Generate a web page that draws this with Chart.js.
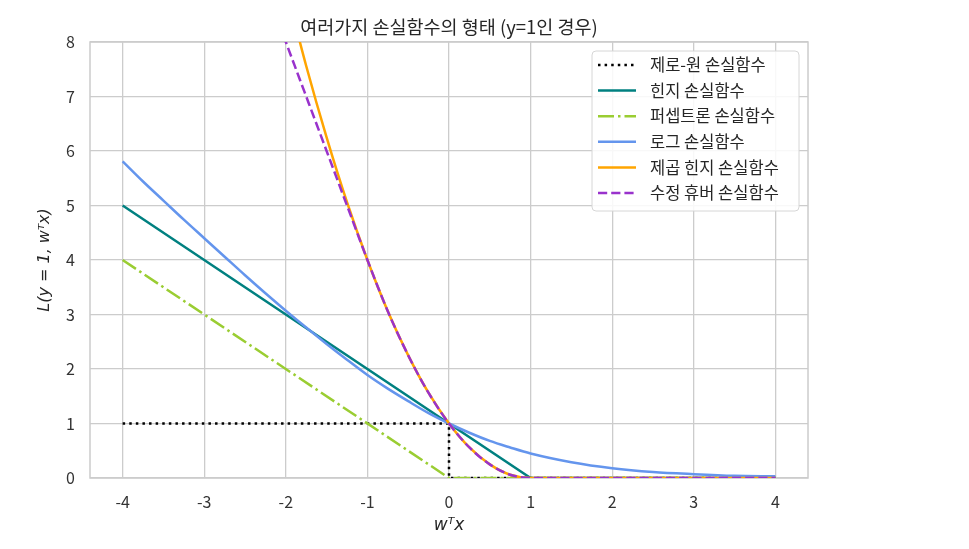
<!DOCTYPE html>
<html>
<head>
<meta charset="utf-8">
<script src="https://cdn.jsdelivr.net/npm/chart.js@4"></script>
<style>
  body { margin: 0; background: #fff; }
  canvas { display: block; }
</style>
</head>
<body>
<canvas id="lossChart" width="969" height="549"></canvas>
<script>
// tick labels
const xTicks = [-4, -3, -2, -1, 0, 1, 2, 3, 4];
const yTicks = [0, 1, 2, 3, 4, 5, 6, 7, 8];

// zero-one loss
const zeroOneX = [-4, 0, 0, 4];
const zeroOneY = [1, 1, 0, 0];

// hinge loss
const hingeX = [-4, 1, 4];
const hingeY = [5, 0, 0];

// perceptron loss
const perceptronX = [-4, 0, 4];
const perceptronY = [4, 0, 0];

// log loss
const logX = [-4, -3.75, -3.5, -3.25, -3, -2.75, -2.5, -2.25, -2, -1.75, -1.5, -1.25, -1,
  -0.75, -0.5, -0.25, 0, 0.25, 0.5, 0.75, 1, 1.5, 2, 2.5, 3, 3.5, 4];
const logY = [5.81, 5.44, 5.09, 4.74, 4.40, 4.06, 3.72, 3.39, 3.07, 2.76, 2.46, 2.17, 1.89,
  1.64, 1.41, 1.19, 1.0, 0.83, 0.68, 0.56, 0.45, 0.29, 0.18, 0.11, 0.07, 0.04, 0.03];

// squared hinge loss
const sqHingeX = [-2, -1.75, -1.5, -1.25, -1, -0.75, -0.5, -0.25, 0, 0.25, 0.5, 0.75, 1, 4];
const sqHingeY = [9, 7.56, 6.25, 5.06, 4, 3.06, 2.25, 1.56, 1, 0.56, 0.25, 0.06, 0, 0];

// modified huber loss
const huberX = [-2.2, -2, -1.75, -1.5, -1.25, -1, -0.75, -0.5, -0.25, 0, 0.25, 0.5, 0.75, 1, 4];
const huberY = [8.8, 8, 7, 6, 5, 4, 3.06, 2.25, 1.56, 1, 0.56, 0.25, 0.06, 0, 0];

const labels = ["제로-원 손실함수", "힌지 손실함수", "퍼셉트론 손실함수", "로그 손실함수", "제곱 힌지 손실함수", "수정 휴버 손실함수"];
const colors = ["#000000", "#008080", "#9acd32", "#6495ed", "#ffa500", "#9932cc"];

function toPoints(xs, ys) {
  return xs.map((x, i) => ({ x: x, y: ys[i] }));
}

const LW = 2.5;
const dashes = [[2.5, 4.1], [], [16, 4, 2.5, 4], [], [], [9.2, 4]];
const series = [
  toPoints(zeroOneX, zeroOneY),
  toPoints(hingeX, hingeY),
  toPoints(perceptronX, perceptronY),
  toPoints(logX, logY),
  toPoints(sqHingeX, sqHingeY),
  toPoints(huberX, huberY),
];
const curved = [false, false, false, true, true, true];

const datasets = series.map((data, i) => ({
  label: labels[i],
  data: data,
  borderColor: colors[i],
  backgroundColor: colors[i],
  borderWidth: LW,
  borderDash: dashes[i],
  pointRadius: 0,
  fill: false,
  cubicInterpolationMode: curved[i] ? "monotone" : "default",
  tension: 0,
  order: series.length - i,
}));

const FONT = "'Noto Sans CJK KR', 'Noto Sans', sans-serif";

// frame around the plot area
const framePlugin = {
  id: "frame",
  beforeDatasetsDraw(chart) {
    const { ctx, chartArea: a } = chart;
    ctx.save();
    ctx.strokeStyle = "#cccccc";
    ctx.lineWidth = 1.5;
    ctx.strokeRect(a.left, a.top, a.right - a.left, a.bottom - a.top);
    ctx.restore();
  },
};

// legend box in upper right corner, like matplotlib
const legendPlugin = {
  id: "boxLegend",
  afterDatasetsDraw(chart) {
    const { ctx, chartArea: a } = chart;
    const x0 = a.right - 216, y0 = a.top + 9, w = 207, h = 160;
    ctx.save();
    ctx.fillStyle = "rgba(255,255,255,0.85)";
    ctx.strokeStyle = "#d6d6d6";
    ctx.lineWidth = 1;
    ctx.beginPath();
    ctx.roundRect(x0, y0, w, h, 4);
    ctx.fill();
    ctx.stroke();
    ctx.font = "16.5px " + FONT;
    ctx.textBaseline = "middle";
    chart.data.datasets.forEach((ds, i) => {
      const y = y0 + 14 + i * 25.6;
      ctx.strokeStyle = ds.borderColor;
      ctx.lineWidth = LW;
      ctx.setLineDash(ds.borderDash);
      ctx.beginPath();
      ctx.moveTo(x0 + 6, y);
      ctx.lineTo(x0 + 44, y);
      ctx.stroke();
      ctx.setLineDash([]);
      ctx.fillStyle = "#262626";
      ctx.fillText(ds.label, x0 + 58, y);
    });
    ctx.restore();
  },
};

new Chart(document.getElementById("lossChart").getContext("2d"), {
  type: "line",
  data: { datasets: datasets },
  plugins: [framePlugin, legendPlugin],
  options: {
    responsive: false,
    animation: false,
    layout: { padding: { left: 0, right: 161, top: 0, bottom: 0 } },
    plugins: {
      legend: { display: false },
      tooltip: { enabled: false },
      title: {
        display: true,
        fullSize: false,
        text: "여러가지 손실함수의 형태 (y=1인 경우)",
        color: "#262626",
        font: { family: FONT, size: 18.5, weight: "normal" },
        padding: { top: 16, bottom: 3.8 },
      },
    },
    scales: {
      x: {
        type: "linear",
        min: -4.4,
        max: 4.4,
        afterFit: (scale) => { scale.height = 71; },
        afterBuildTicks: (scale) => { scale.ticks = xTicks.map((v) => ({ value: v })); },
        grid: { color: "#cccccc", lineWidth: 1.3, drawTicks: false },
        border: { display: false },
        ticks: {
          padding: 14,
          color: "#333333",
          font: { family: FONT, size: 16 },
          callback: (v) => String(v),
        },
        title: {
          display: true,
          text: "wᵀx",
          color: "#262626",
          font: { family: "'DejaVu Sans'", size: 17, style: "italic" },
          padding: { top: 0, bottom: 13 },
        },
      },
      y: {
        type: "linear",
        min: 0,
        max: 8,
        afterFit: (scale) => { scale.width = 90; },
        afterBuildTicks: (scale) => { scale.ticks = yTicks.map((v) => ({ value: v })); },
        grid: { color: "#cccccc", lineWidth: 1.3, drawTicks: false },
        border: { display: false },
        ticks: {
          padding: 15,
          color: "#333333",
          font: { family: FONT, size: 16 },
          callback: (v) => String(v),
        },
        title: {
          display: true,
          text: "L(y = 1, wᵀx)",
          color: "#262626",
          font: { family: "'DejaVu Sans'", size: 16, style: "italic" },
          padding: { top: 35, bottom: 0 },
        },
      },
    },
  },
});
</script>
</body>
</html>
